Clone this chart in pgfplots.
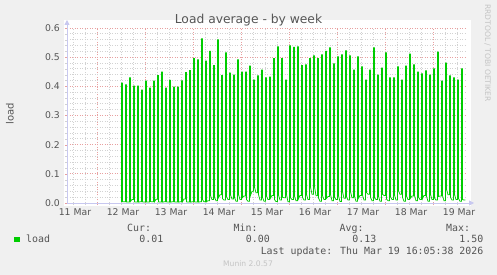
\documentclass[border=0pt]{standalone}
\usepackage{fontspec}
\setmainfont{DejaVu Sans}
\newfontfamily\monofont{DejaVu Sans Mono}
\usepackage{pgfplots}
\pgfplotsset{compat=1.18}
\usetikzlibrary{arrows.meta}
\definecolor{bg}{HTML}{F0F0F0}
\definecolor{txt}{HTML}{555555}
\definecolor{majgrid}{HTML}{E8A0A0}
\definecolor{mingrid}{HTML}{D2D2D2}
\definecolor{axcol}{HTML}{C8C8F0}
\definecolor{loadgreen}{HTML}{00CC00}
\definecolor{faint}{HTML}{C4C4C4}
\begin{document}
\begin{tikzpicture}[x=1pt,y=1pt]
\useasboundingbox (0,0) rectangle (497,275);
\fill[bg] (0,0) rectangle (497,275);
\fill[white] (64,69) rectangle (471,254.5);
\begin{axis}[
  at={(67pt,72pt)}, anchor=south west,
  scale only axis, width=400pt, height=175pt,
  xmin=-4, xmax=196, ymin=0, ymax=0.6,
  axis line style={draw=none},
  tick pos=left, tick align=outside,
  major tick length=2pt, minor tick length=2pt,
  major tick style={draw=majgrid},
  minor tick style={draw=mingrid},
  xtick={11,35,59,83,107,131,155,179},
  xticklabels={,,,,,,,},
  minor xtick={-1,5,17,23,29,41,47,53,65,71,77,89,95,101,113,119,125,137,143,149,161,167,173,185,191},
  ytick={0,0.1,0.2,0.3,0.4,0.5,0.6},
  yticklabels={0.0,0.1,0.2,0.3,0.4,0.5,0.6},
  minor y tick num=4,
  grid=both,
  major grid style={majgrid, dash pattern=on 1pt off 1.5pt, line width=0.8pt},
  minor grid style={mingrid, dash pattern=on 1pt off 1.5pt, line width=0.8pt},
  extra x ticks={0,24,48,72,96,120,144,168,192},
  extra x tick labels={11 Mar,12 Mar,13 Mar,14 Mar,15 Mar,16 Mar,17 Mar,18 Mar,19 Mar},
  extra x tick style={grid=none, major tick length=0pt},
  xticklabel style={font=\fontsize{9.3}{10}\selectfont, text=txt, anchor=north, inner sep=0pt, yshift=-5.5pt},
  yticklabel style={font=\fontsize{9.3}{10}\selectfont, text=txt, anchor=east, inner sep=0pt, xshift=-5pt},
]
\addplot[loadgreen, line width=0.75pt, mark=none] coordinates {
(23.3,0.003)(23.3,0.411)(23.7,0.411)(23.7,0.004)(24.5,0.004)
(25.3,0.004)(25.3,0.405)(25.7,0.405)(25.7,0.003)(26.5,0.003)
(27.3,0.003)(27.3,0.429)(27.7,0.429)(27.7,0.005)(28.5,0.012)
(29.3,0.012)(29.3,0.401)(29.7,0.401)(29.7,0.004)(30.5,0.003)
(31.3,0.003)(31.3,0.401)(31.7,0.401)(31.7,0.003)(32.5,0.004)
(33.3,0.004)(33.3,0.387)(33.7,0.387)(33.7,0.004)(34.5,0.003)
(35.3,0.003)(35.3,0.418)(35.7,0.418)(35.7,0.003)(36.5,0.003)
(37.3,0.003)(37.3,0.394)(37.7,0.394)(37.7,0.005)(38.5,0.004)
(39.3,0.004)(39.3,0.418)(39.7,0.418)(39.7,0.004)(40.5,0.013)
(41.3,0.013)(41.3,0.437)(41.7,0.437)(41.7,0.004)(42.5,0.003)
(43.3,0.003)(43.3,0.449)(43.7,0.449)(43.7,0.003)(44.5,0.004)
(45.3,0.004)(45.3,0.394)(45.7,0.394)(45.7,0.004)(46.5,0.003)
(47.3,0.003)(47.3,0.421)(47.7,0.421)(47.7,0.003)(48.5,0.004)
(49.3,0.004)(49.3,0.398)(49.7,0.398)(49.7,0.004)(50.5,0.003)
(51.3,0.003)(51.3,0.398)(51.7,0.398)(51.7,0.003)(52.5,0.004)
(53.3,0.004)(53.3,0.419)(53.7,0.419)(53.7,0.004)(54.5,0.014)
(55.3,0.014)(55.3,0.447)(55.7,0.447)(55.7,0.004)(56.5,0.003)
(57.3,0.003)(57.3,0.454)(57.7,0.454)(57.7,0.003)(58.5,0.004)
(59.3,0.004)(59.3,0.495)(59.7,0.495)(59.7,0.004)(60.5,0.003)
(61.3,0.003)(61.3,0.491)(61.7,0.491)(61.7,0.003)(62.5,0.004)
(63.3,0.004)(63.3,0.563)(63.7,0.563)(63.7,0.012)(64.5,0.004)
(65.3,0.004)(65.3,0.487)(65.7,0.487)(65.7,0.004)(66.5,0.008)
(67.3,0.008)(67.3,0.520)(67.7,0.520)(67.7,0.026)(68.5,0.012)
(69.3,0.012)(69.3,0.471)(69.7,0.471)(69.7,0.020)(70.5,0.008)
(71.3,0.008)(71.3,0.560)(71.7,0.560)(71.7,0.018)(72.5,0.028)
(73.3,0.028)(73.3,0.437)(73.7,0.437)(73.7,0.015)(74.5,0.010)
(75.3,0.010)(75.3,0.515)(75.7,0.515)(75.7,0.022)(76.5,0.012)
(77.3,0.012)(77.3,0.446)(77.7,0.446)(77.7,0.028)(78.5,0.014)
(79.3,0.014)(79.3,0.439)(79.7,0.439)(79.7,0.020)(80.5,0.006)
(81.3,0.006)(81.3,0.491)(81.7,0.491)(81.7,0.030)(82.5,0.012)
(83.3,0.012)(83.3,0.449)(83.7,0.449)(83.7,0.018)(84.5,0.024)
(85.3,0.024)(85.3,0.449)(85.7,0.449)(85.7,0.012)(86.5,0.006)
(87.3,0.006)(87.3,0.470)(87.7,0.470)(87.7,0.025)(88.5,0.040)
(89.3,0.040)(89.3,0.422)(89.7,0.422)(89.7,0.055)(90.5,0.035)
(91.3,0.035)(91.3,0.436)(91.7,0.436)(91.7,0.030)(92.5,0.010)
(93.3,0.010)(93.3,0.456)(93.7,0.456)(93.7,0.020)(94.5,0.006)
(95.3,0.006)(95.3,0.429)(95.7,0.429)(95.7,0.024)(96.5,0.012)
(97.3,0.012)(97.3,0.432)(97.7,0.432)(97.7,0.016)(98.5,0.026)
(99.3,0.026)(99.3,0.495)(99.7,0.495)(99.7,0.012)(100.5,0.005)
(101.3,0.005)(101.3,0.536)(101.7,0.536)(101.7,0.028)(102.5,0.010)
(103.3,0.010)(103.3,0.495)(103.7,0.495)(103.7,0.020)(104.5,0.018)
(105.3,0.018)(105.3,0.422)(105.7,0.422)(105.7,0.030)(106.5,0.004)
(107.3,0.004)(107.3,0.539)(107.7,0.539)(107.7,0.018)(108.5,0.012)
(109.3,0.012)(109.3,0.534)(109.7,0.534)(109.7,0.024)(110.5,0.008)
(111.3,0.008)(111.3,0.536)(111.7,0.536)(111.7,0.014)(112.5,0.026)
(113.3,0.026)(113.3,0.471)(113.7,0.471)(113.7,0.020)(114.5,0.010)
(115.3,0.010)(115.3,0.474)(115.7,0.474)(115.7,0.030)(116.5,0.012)
(117.3,0.012)(117.3,0.495)(117.7,0.495)(117.7,0.056)(118.5,0.030)
(119.3,0.030)(119.3,0.505)(119.7,0.505)(119.7,0.058)(120.5,0.025)
(121.3,0.025)(121.3,0.495)(121.7,0.495)(121.7,0.018)(122.5,0.006)
(123.3,0.006)(123.3,0.508)(123.7,0.508)(123.7,0.026)(124.5,0.012)
(125.3,0.012)(125.3,0.520)(125.7,0.520)(125.7,0.016)(126.5,0.022)
(127.3,0.022)(127.3,0.532)(127.7,0.532)(127.7,0.030)(128.5,0.008)
(129.3,0.008)(129.3,0.477)(129.7,0.477)(129.7,0.020)(130.5,0.012)
(131.3,0.012)(131.3,0.501)(131.7,0.501)(131.7,0.026)(132.5,0.005)
(133.3,0.005)(133.3,0.508)(133.7,0.508)(133.7,0.040)(134.5,0.016)
(135.3,0.016)(135.3,0.522)(135.7,0.522)(135.7,0.022)(136.5,0.010)
(137.3,0.010)(137.3,0.505)(137.7,0.505)(137.7,0.040)(138.5,0.018)
(139.3,0.018)(139.3,0.456)(139.7,0.456)(139.7,0.024)(140.5,0.006)
(141.3,0.006)(141.3,0.501)(141.7,0.501)(141.7,0.016)(142.5,0.026)
(143.3,0.026)(143.3,0.467)(143.7,0.467)(143.7,0.028)(144.5,0.010)
(145.3,0.010)(145.3,0.422)(145.7,0.422)(145.7,0.036)(146.5,0.030)
(147.3,0.030)(147.3,0.456)(147.7,0.456)(147.7,0.020)(148.5,0.008)
(149.3,0.008)(149.3,0.532)(149.7,0.532)(149.7,0.018)(150.5,0.012)
(151.3,0.012)(151.3,0.439)(151.7,0.439)(151.7,0.024)(152.5,0.006)
(153.3,0.006)(153.3,0.463)(153.7,0.463)(153.7,0.030)(154.5,0.026)
(155.3,0.026)(155.3,0.515)(155.7,0.515)(155.7,0.014)(156.5,0.008)
(157.3,0.008)(157.3,0.429)(157.7,0.429)(157.7,0.022)(158.5,0.012)
(159.3,0.012)(159.3,0.429)(159.7,0.429)(159.7,0.028)(160.5,0.010)
(161.3,0.010)(161.3,0.467)(161.7,0.467)(161.7,0.042)(162.5,0.030)
(163.3,0.030)(163.3,0.422)(163.7,0.422)(163.7,0.020)(164.5,0.006)
(165.3,0.006)(165.3,0.470)(165.7,0.470)(165.7,0.024)(166.5,0.012)
(167.3,0.012)(167.3,0.511)(167.7,0.511)(167.7,0.016)(168.5,0.024)
(169.3,0.024)(169.3,0.474)(169.7,0.474)(169.7,0.026)(170.5,0.008)
(171.3,0.008)(171.3,0.449)(171.7,0.449)(171.7,0.020)(172.5,0.012)
(173.3,0.012)(173.3,0.443)(173.7,0.443)(173.7,0.014)(174.5,0.026)
(175.3,0.026)(175.3,0.453)(175.7,0.453)(175.7,0.024)(176.5,0.006)
(177.3,0.006)(177.3,0.439)(177.7,0.439)(177.7,0.030)(178.5,0.012)
(179.3,0.012)(179.3,0.460)(179.7,0.460)(179.7,0.018)(180.5,0.010)
(181.3,0.010)(181.3,0.518)(181.7,0.518)(181.7,0.022)(182.5,0.024)
(183.3,0.024)(183.3,0.418)(183.7,0.418)(183.7,0.026)(184.5,0.008)
(185.3,0.008)(185.3,0.480)(185.7,0.480)(185.7,0.048)(186.5,0.028)
(187.3,0.028)(187.3,0.436)(187.7,0.436)(187.7,0.020)(188.5,0.010)
(189.3,0.010)(189.3,0.429)(189.7,0.429)(189.7,0.030)(190.5,0.012)
(191.3,0.012)(191.3,0.422)(191.7,0.422)(191.7,0.016)(192.5,0.006)
(193.3,0.006)(193.3,0.460)(193.7,0.460)(193.7,0.012)(194.5,0.010)(195.2,0.010)
};
\end{axis}
% axis lines with arrows
\draw[axcol, line width=0.8pt, -{Triangle[length=5pt,width=5pt]}] (67,72) -- (474,72);
\draw[axcol, line width=0.8pt, -{Triangle[length=5pt,width=5pt]}] (67,72) -- (67,255);
% title and labels
\node[anchor=base, font=\fontsize{12.3}{14}\selectfont, text=txt, inner sep=0pt] at (248.5,251) {Load average - by week};
\node[rotate=90, font=\fontsize{10}{12}\selectfont, text=txt, inner sep=0pt] at (10,161) {load};
\node[rotate=-90, font=\fontsize{7.6}{9}\selectfont, text=faint, inner sep=0pt] at (487.5,222) {RRDTOOL / TOBI OETIKER};
% legend
\fill[loadgreen] (14,32.7) rectangle (20,38.3);
\begin{scope}[every node/.style={inner sep=0pt, font=\monofont\fontsize{9.9}{11}\selectfont, text=txt}]
\node[anchor=base west] at (26,32.1) {load};
\node[anchor=base west] at (127,43.7) {Cur:};
\node[anchor=base west] at (233.5,43.7) {Min:};
\node[anchor=base west] at (339.5,43.7) {Avg:};
\node[anchor=base west] at (446,43.7) {Max:};
\node[anchor=base east] at (163.5,32.1) {0.01};
\node[anchor=base east] at (270,32.1) {0.00};
\node[anchor=base east] at (376.5,32.1) {0.13};
\node[anchor=base east] at (483.5,32.1) {1.50};
\node[anchor=base east] at (483.5,20.1) {Last update: Thu Mar 19 16:05:38 2026};
\end{scope}
\node[anchor=base, inner sep=0pt, font=\fontsize{7.6}{9}\selectfont, text=faint] at (248,8.2) {Munin 2.0.57};
\end{tikzpicture}
\end{document}
